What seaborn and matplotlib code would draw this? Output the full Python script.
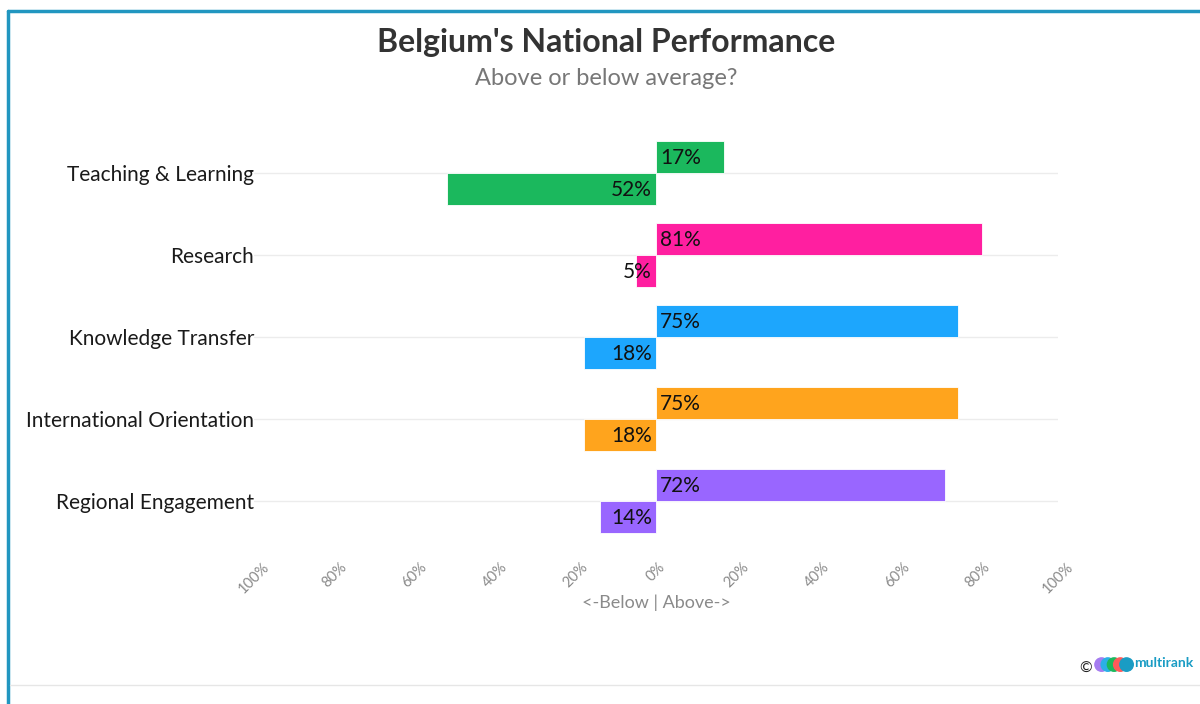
import pandas as pd
import matplotlib.pyplot as plt
import matplotlib.patches as mpatches
from matplotlib.lines import Line2D
import seaborn as sns

# data
categories = ['Teaching & Learning', 'Research', 'Knowledge Transfer',
              'International Orientation', 'Regional Engagement']
above = [17, 81, 75, 75, 72]
below = [52, 5, 18, 18, 14]
colors = ['#1bb85d', '#ff1fa0', '#1da6fd', '#ffa41d', '#9966ff']
tick_vals = [-100, -80, -60, -40, -20, 0, 20, 40, 60, 80, 100]

df = pd.DataFrame({
    'Category': categories * 2,
    'Side': ['Above'] * len(categories) + ['Below'] * len(categories),
    'Value': above + [-v for v in below],
})

sns.set_style('white')
plt.rcParams['font.family'] = ['Lato', 'DejaVu Sans']

fig = plt.figure(figsize=(12, 7.04), dpi=100)
ax = fig.add_axes([0.2117, 0.2301, 0.67, 0.5824])

sns.barplot(data=df, y='Category', x='Value', hue='Side',
            order=categories, hue_order=['Above', 'Below'],
            orient='h', width=0.78, dodge=True, legend=False, ax=ax)

# colour every bar by its category
n = len(categories)
for i, p in enumerate(ax.patches[:2 * n]):
    p.set_facecolor(colors[i % n])
    p.set_edgecolor('white')
    p.set_linewidth(0.6)

# value labels
for i, p in enumerate(ax.patches[:2 * n]):
    yc = p.get_y() + p.get_height() / 2
    if i < n:
        ax.text(1.0, yc + 0.01, f'{above[i]}%', ha='left', va='center',
                fontsize=15, color='#111111')
    else:
        ax.text(-1.0, yc + 0.01, f'{below[i - n]}%', ha='right', va='center',
                fontsize=15, color='#111111')

ax.set_xlim(-100, 100)
ax.set_ylim(len(categories) - 0.5, -0.5)
ax.set_xticks(tick_vals)
ax.set_xticklabels([f'{abs(t)}%' for t in tick_vals], rotation=45,
                   color='#8a8a8a', fontsize=10.5, ha='center')
ax.tick_params(axis='x', length=0, pad=13)
ax.tick_params(axis='y', length=0, pad=0)
for lab in ax.get_yticklabels():
    lab.set_fontsize(15)
    lab.set_color('#1a1a1a')
ax.set_ylabel('')
ax.set_xlabel('<-Below | Above->', fontsize=13, color='#8a8a8a', labelpad=-1)

for yv in range(len(categories)):
    ax.axhline(yv, color='#ececec', lw=1, zorder=0)
for s in ax.spines.values():
    s.set_visible(False)

# titles
fig.text(0.505, 0.940, "Belgium's National Performance", ha='center', va='center',
         fontsize=23, fontweight='bold', color='#333333')
fig.text(0.505, 0.889, 'Above or below average?', ha='center', va='center',
         fontsize=17, color='#777777')

# frame lines
fig.add_artist(Line2D([0.0067, 1.0], [0.985, 0.985], color='#2196c0', lw=2.5))
fig.add_artist(Line2D([0.0067, 0.0067], [0.0, 0.985], color='#2196c0', lw=2.5))
fig.add_artist(Line2D([0.008, 1.0], [0.027, 0.027], color='#e6e6e6', lw=1))

# multirank logo
fig.text(0.905, 0.050, '©', ha='center', va='center', fontsize=11, color='#222222')
for k, c in enumerate(['#a57cf0', '#2bb0e6', '#1bb85d', '#ff5a5a', '#1a9cc4']):
    fig.add_artist(mpatches.Ellipse((0.918 + k * 0.0052, 0.056), 0.0112, 0.019,
                                    color=c, transform=fig.transFigure))
fig.text(0.945, 0.058, 'multirank', ha='left', va='center', fontsize=10,
         fontweight='bold', color='#1a9cc4')

fig.savefig('out.png', dpi=100)
